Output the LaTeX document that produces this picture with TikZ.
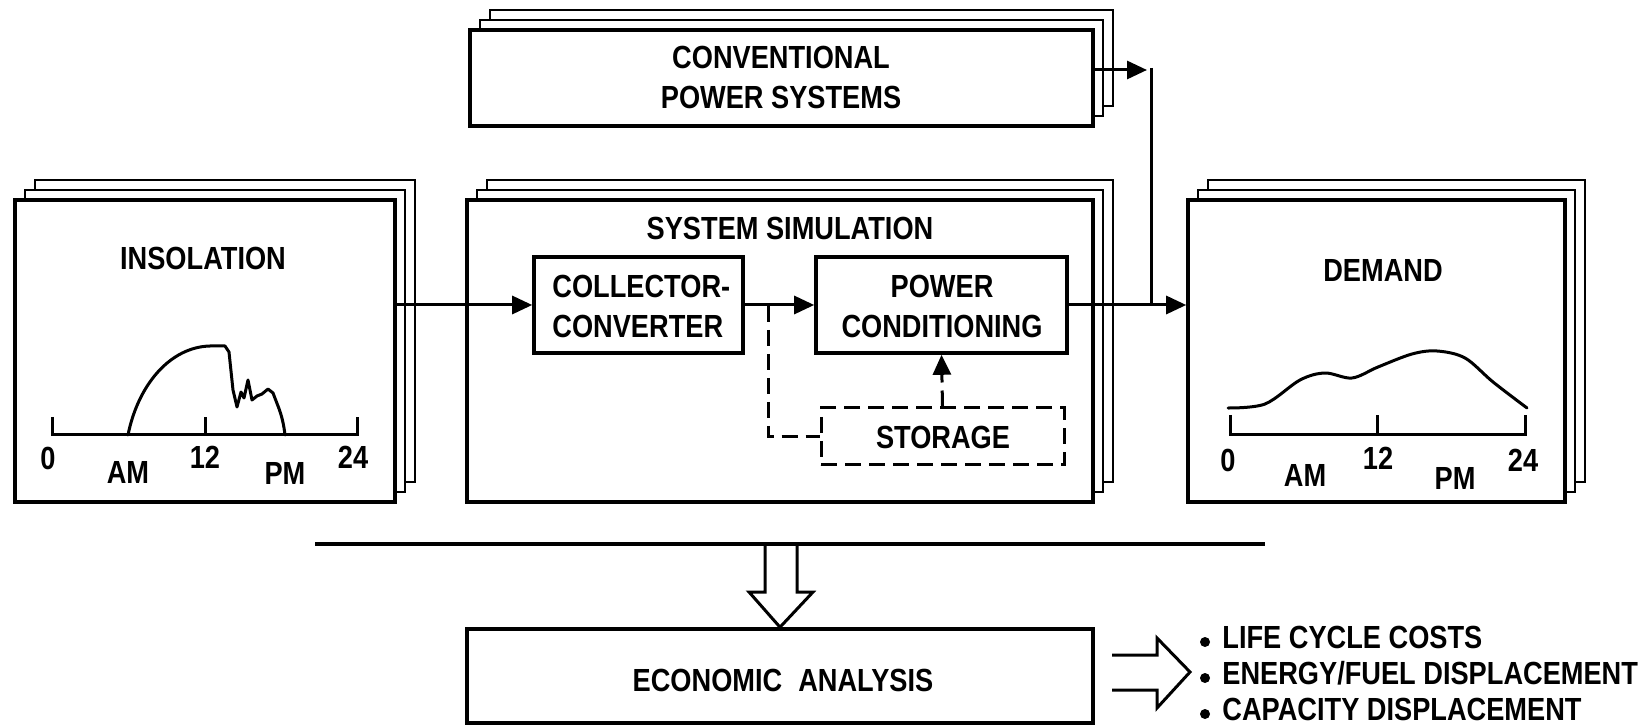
\documentclass[tikz,border=0pt]{standalone}
\usepackage{fontspec}
\newfontfamily\labfont{Liberation Sans}[FakeStretch=0.85]
\usetikzlibrary{fit,arrows.meta}
\tikzset{
  frontbox/.style={draw, line width=1.8pt, fill=white, inner sep=0pt},
  backsheet/.style={draw, line width=1.3pt, fill=white},
  lbl/.style={font=\labfont\bfseries\fontsize{16}{20}\selectfont, inner sep=0pt, align=center},
  conn/.style={line width=1.5pt},
  arr/.style={-{Triangle[length=10pt,width=9pt]}},
  dashline/.style={line width=1.5pt, dash pattern=on 8pt off 4pt},
  curve/.style={line width=1.5pt, line join=round, line cap=round},
  axisline/.style={line width=1.5pt},
  hollow/.style={line width=1.5pt, line join=miter}
}
\newcommand\stackedbox[5]{%
  \draw[backsheet] (#2+20,#3-20) rectangle (#4+20,#5-20);
  \draw[backsheet] (#2+10,#3-10) rectangle (#4+10,#5-10);
  \node[frontbox, fit={(#2,#3) (#4,#5)}] (#1) {};
}
\begin{document}
\begin{tikzpicture}[x=0.5pt,y=-0.5pt]
\useasboundingbox (0,0) rectangle (1647,726);

% stacked boxes
\stackedbox{conv}{470}{30}{1093}{126}
\stackedbox{ins}{15}{200}{395}{502}
\stackedbox{sim}{467}{200}{1093}{502}
\stackedbox{dem}{1188}{200}{1565}{502}

\node[lbl] (convtxt) at (781,77) {CONVENTIONAL\\POWER SYSTEMS};

% insolation chart
\node[lbl] (instxt) at (203,258) {INSOLATION};
\draw[axisline] (52,417) -- (52,435) -- (357,435) -- (357,417);
\draw[axisline] (205,435) -- (205,417);
\draw[curve] (128,435) .. controls (138,385) and (170,347) .. (210,346) -- (225,346) -- (229,352)
  -- (233,390) -- (237,407) -- (241,392) -- (244,398) -- (248,380) -- (252,400) -- (257,396)
  -- (262,394) -- (268,389) -- (273,393) -- (278,406) .. controls (282,416) and (284,426) .. (285,435);
\node[lbl] (i0) at (48,458) {0};
\node[lbl] (i12) at (205,457) {12};
\node[lbl] (i24) at (353,457) {24};
\node[lbl] (iam) at (128,472) {AM};
\node[lbl] (ipm) at (285,473) {PM};

% demand chart
\node[lbl] (demtxt) at (1383,270) {DEMAND};
\draw[axisline] (1230,415) -- (1230,435) -- (1525,435) -- (1525,415);
\draw[axisline] (1377,435) -- (1377,415);
\draw[curve] plot[smooth, tension=0.55] coordinates {(1228,408) (1265,404) (1300,380) (1325,373) (1352,378) (1378,367) (1412,354) (1437,351) (1465,358) (1493,382) (1527,408)};
\node[lbl] (d0) at (1228,460) {0};
\node[lbl] (d12) at (1378,458) {12};
\node[lbl] (d24) at (1523,460) {24};
\node[lbl] (dam) at (1305,475) {AM};
\node[lbl] (dpm) at (1455,478) {PM};

% system simulation contents
\node[lbl] (simtxt) at (790,228) {SYSTEM SIMULATION};
\node[frontbox, fit={(534,257) (743,353)}] (cc) {};
\node[lbl, align=left, anchor=west] (cctxt) at (552,306) {COLLECTOR-\\CONVERTER};
\node[frontbox, fit={(816,257) (1067,353)}] (pc) {};
\node[lbl] (pctxt) at (942,306) {POWER\\CONDITIONING};
\node[fit={(821,408) (1064,465)}, inner sep=0pt, draw, dashline] (st) {};
\node[lbl] (sttxt) at (943,437) {STORAGE};

% connectors
\draw[conn, arr] (ins.east |- cc.west) -- (cc.west);
\draw[conn, arr] (cc.east) -- (pc.west);
\coordinate (dv) at (768,306);
\draw[dashline] (dv) |- (st.west);
\draw[dashline, arr] (st.north) -- (pc.south);
\coordinate (jn) at (1151,70);
\draw[conn, arr] (conv.east |- jn) -- ([xshift=-2pt]jn);
\draw[conn] ([yshift=1pt]jn) -- (jn |- pc.east);
\draw[conn, arr] (pc.east) -- (dem.west |- pc.east);

% separator line and hollow arrow to economic analysis
\coordinate (hl1) at (315,544);
\coordinate (hl2) at (1265,544);
\draw[line width=1.8pt] (hl1) -- (hl2);
\node[frontbox, fit={(467,629) (1093,723)}] (econ) {};
\node[lbl] (econtxt) at (783,680) {ECONOMIC\enspace ANALYSIS};
\draw[hollow] (765,544) -- (765,592) -- (749,592) -- (econ.north) -- (813,592) -- (797,592) -- (797,544);

% hollow arrow to results
\draw[hollow] (1112,655) -- (1157,655) -- (1157,638) -- (1190,672) -- (1157,708) -- (1157,690) -- (1112,690);
\fill (1205,642) circle (5);
\fill (1205,678) circle (5);
\fill (1205,714) circle (5);
\node[lbl, anchor=base west] (r1) at (1222,648) {LIFE CYCLE COSTS};
\node[lbl, anchor=base west] (r2) at (1222,684) {ENERGY/FUEL DISPLACEMENT};
\node[lbl, anchor=base west] (r3) at (1222,720) {CAPACITY DISPLACEMENT};
\end{tikzpicture}
\end{document}
